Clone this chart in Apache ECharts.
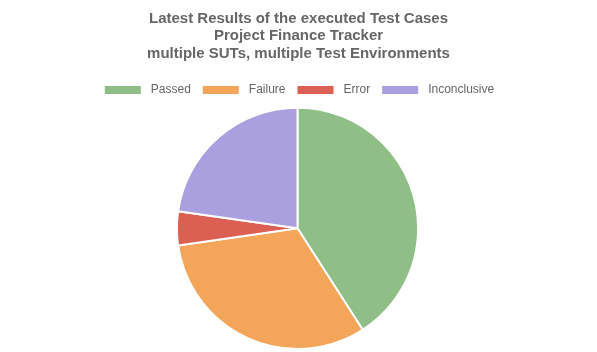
<!DOCTYPE html>
<html><head><meta charset="utf-8">
<script src="https://cdn.jsdelivr.net/npm/echarts@6/dist/echarts.min.js"></script>
<style>html,body{margin:0;padding:0;background:#fff}#c{width:597px;height:352px}</style>
</head><body><div id="c"></div>
<script>
const titleLines = ["Latest Results of the executed Test Cases", "Project Finance Tracker", "multiple SUTs, multiple Test Environments"];
const categories = ["Passed", "Failure", "Error", "Inconclusive"];
const values = [18, 14, 2, 10];
const colors = ["#8fbf87", "#f3a55a", "#db5f52", "#aa9fdf"];

const chart = echarts.init(document.getElementById('c'), null, {renderer: 'canvas'});
chart.setOption({
  animation: false,
  color: colors,
  title: {
    text: titleLines.join("\n"),
    left: 'center', top: 5, padding: [5, 5, 5, 5],
    textStyle: {fontFamily: 'Liberation Sans, Arial', fontSize: 15, fontWeight: 'bold', color: '#666', lineHeight: 17.5}
  },
  legend: {
    data: categories,
    top: 79, left: 'center',
    itemWidth: 38, itemHeight: 10, itemGap: 10,
    icon: 'rect',
    textStyle: {fontFamily: 'Liberation Sans, Arial', fontSize: 12, color: '#666', padding: [0, 0, 0, 4]}
  },
  series: [{
    type: 'pie',
    center: [297.5, 228.3],
    radius: 120.6,
    startAngle: 90,
    clockwise: true,
    label: {show: false},
    labelLine: {show: false},
    emphasis: {disabled: true},
    itemStyle: {borderColor: '#fff', borderWidth: 2},
    data: categories.map((n, i) => ({name: n, value: values[i]}))
  }]
});
</script></body></html>
